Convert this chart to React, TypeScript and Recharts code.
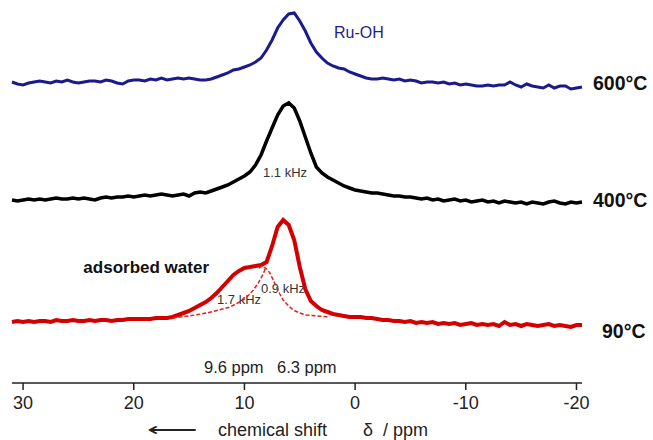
import React from 'react';
import { LineChart, Line, XAxis, YAxis, Customized } from 'recharts';

// chemical shift grid (ppm), high to low
const PPM = [
  31, 30.5, 30, 29.5, 29, 28.5, 28, 27.5, 27, 26.5,
  26, 25.5, 25, 24.5, 24, 23.5, 23, 22.5, 22, 21.5,
  21, 20.5, 20, 19.5, 19, 18.5, 18, 17.5, 17, 16.5,
  16, 15.5, 15, 14.5, 14, 13.5, 13, 12.5, 12, 11.5,
  11, 10.5, 10, 9.5, 9, 8.5, 8, 7.5, 7, 6.5,
  6, 5.5, 5, 4.5, 4, 3.5, 3, 2.5, 2, 1.5,
  1, 0.5, 0, -0.5, -1, -1.5, -2, -2.5, -3, -3.5,
  -4, -4.5, -5, -5.5, -6, -6.5, -7, -7.5, -8, -8.5,
  -9, -9.5, -10, -10.5, -11, -11.5, -12, -12.5, -13, -13.5,
  -14, -14.5, -15, -15.5, -16, -16.5, -17, -17.5, -18, -18.5,
  -19, -19.5, -20, -20.5,
];

// 600°C
const BLUE = [
  1, -1, -2, 0, 1, 2, 1, 0, 2, 1,
  3, 1, 0, 1, 2, 2, 1, 3, 2, 0,
  -1, 2, 3, 3, 2, 4, 3, 5, 3, 4,
  5, 4, 5, 4, 3, 3, 4, 6, 8, 10,
  13, 14, 16, 18, 21, 25, 33, 43, 55, 63,
  69, 70, 62, 52, 40, 31, 25, 20, 17, 15,
  14, 11, 9, 7, 5, 4, 4, 5, 4, 3,
  4, 2, 3, 2, 0, 1, 1, 0, 1, -1,
  0, -2, -1, -2, -3, -3, -2, -3, -2, -2,
  1, -2, -4, -1, -3, -4, -5, -2, -5, -3,
  -3, -6, -5, -4,
];

// 400°C
const BLACK = [
  0, -1, 0, 1, 0, 1, 0, 1, 2, 1,
  1, 2, 1, 2, 1, 0, 2, 3, 2, 3,
  3, 4, 3, 4, 5, 4, 5, 6, 5, 4,
  5, 6, 4, 7, 8, 7, 9, 11, 13, 15,
  18, 21, 24, 28, 35, 45, 59, 72, 85, 94,
  97, 92, 79, 63, 47, 33, 27, 23, 20, 17,
  14, 12, 10, 9, 8, 7, 7, 6, 5, 4,
  4, 3, 3, 2, 1, 2, 0, 1, -1, 0,
  1, -1, 0, -2, -1, 0, -2, -1, -3, -1,
  -2, -3, -2, -4, -2, -3, -4, -2, -1, -3,
  -4, -2, -3, -2,
];

// 90°C
const RED = [
  0, 1, 0, 1, 0, 1, 1, 0, 2, 1,
  1, 2, 1, 1, 2, 1, 2, 2, 1, 2,
  2, 3, 3, 3, 3, 3, 4, 4, 4, 5,
  7, 9, 11, 14, 17, 20, 24, 29, 35, 41,
  47, 51, 54, 55, 56, 57, 60, 76, 95, 102,
  97, 82, 55, 33, 21, 16, 12, 10, 8, 7,
  6, 5, 5, 5, 4, 4, 3, 2, 2, 1,
  1, 0, 1, -1, 0, -1, 0, -2, -1, -2,
  -1, -3, -2, -1, -3, -2, -3, -2, -4, 0,
  -3, -2, -4, -2, -3, -4, -3, -2, -4, -3,
  -4, -5, -3, -3,
];

// deconvolution components of the 90°C spectrum
const BROAD_PPM = [16.5, 15, 13.4, 12.3, 11.3, 10.1, 9.6, 9.2, 8.8, 8.6, 8.3, 8.1];
const BROAD = [4, 6, 9, 12, 15, 22, 27, 32, 38, 42, 48, 54];
const NARROW_PPM = [8.7, 8.4, 8, 7.7, 7.4, 7.1, 6.8, 6.5, 6, 5.6, 5, 4.4, 3.4, 2.3];
const NARROW = [54, 56, 53, 49, 42, 35, 28, 22, 16, 12, 9, 7, 6, 5];

// vertical stacking offsets of the traces
const OFFSET_600 = 300;
const OFFSET_400 = 183;
const OFFSET_90 = 61;

const TICKS = [30, 20, 10, 0, -10, -20];

const series = (ppm: number[], vals: number[], offset: number) =>
  ppm.map((p, i) => ({ ppm: p, y: vals[i] + offset }));

const FONT = '"Liberation Sans", Arial, sans-serif';

const Notes = () => (
  <g fontFamily={FONT}>
    <text x={334} y={38} fontSize={16} fill="#1e1e8c">Ru-OH</text>
    <text x={593} y={90} fontSize={19.5} fontWeight="bold" fill="#111">600°C</text>
    <text x={593} y={207} fontSize={19.5} fontWeight="bold" fill="#111">400°C</text>
    <text x={602} y={338} fontSize={19.5} fontWeight="bold" fill="#111">90°C</text>
    <text x={285} y={177} fontSize={13} fill="#333" textAnchor="middle">1.1 kHz</text>
    <text x={209} y={273} fontSize={17} fontWeight="bold" fill="#111" textAnchor="end">adsorbed water</text>
    <text x={239} y={304} fontSize={13} fill="#333" textAnchor="middle">1.7 kHz</text>
    <text x={283} y={293} fontSize={13} fill="#333" textAnchor="middle">0.9 kHz</text>
    <text x={204} y={373} fontSize={16.5} fill="#222">9.6 ppm</text>
    <text x={277} y={373} fontSize={16.5} fill="#222">6.3 ppm</text>
    <text x={147} y={436} fontSize={18} fill="#222" textLength={51} lengthAdjust="spacingAndGlyphs">⟵</text>
    <text x={218} y={436} fontSize={18} fill="#222">chemical shift</text>
    <text x={363} y={436} fontSize={18} fill="#222">δ</text>
    <text x={383} y={436} fontSize={18} fill="#222">/ ppm</text>
  </g>
);

export default function App() {
  return (
    <div style={{ position: 'absolute', left: 0, top: 0, background: '#fff' }}>
      <LineChart width={653} height={440} margin={{ top: 0, right: 71, left: 12, bottom: 0 }}>
        <XAxis
          type="number"
          dataKey="ppm"
          domain={[-20.5, 31]}
          reversed
          ticks={TICKS}
          height={57}
          tickSize={7}
          tickMargin={6}
          stroke="#222"
          strokeWidth={1.5}
          tick={{ fontSize: 18, fill: '#222', fontFamily: FONT }}
        />
        <YAxis type="number" domain={[0, 383]} hide />
        <Line
          data={series(PPM, RED, OFFSET_90)}
          dataKey="y"
          stroke="#d40000"
          strokeWidth={4}
          dot={false}
          isAnimationActive={false}
        />
        <Line
          data={series(BROAD_PPM, BROAD, OFFSET_90)}
          dataKey="y"
          stroke="#e0201c"
          strokeWidth={1.5}
          strokeDasharray="4 2"
          dot={false}
          isAnimationActive={false}
        />
        <Line
          data={series(NARROW_PPM, NARROW, OFFSET_90)}
          dataKey="y"
          stroke="#e0201c"
          strokeWidth={1.5}
          strokeDasharray="4 2"
          dot={false}
          isAnimationActive={false}
        />
        <Line
          data={series(PPM, BLACK, OFFSET_400)}
          dataKey="y"
          stroke="#000"
          strokeWidth={3.5}
          dot={false}
          isAnimationActive={false}
        />
        <Line
          data={series(PPM, BLUE, OFFSET_600)}
          dataKey="y"
          stroke="#1a1a8c"
          strokeWidth={3}
          dot={false}
          isAnimationActive={false}
        />
        <Customized component={Notes} />
      </LineChart>
    </div>
  );
}
